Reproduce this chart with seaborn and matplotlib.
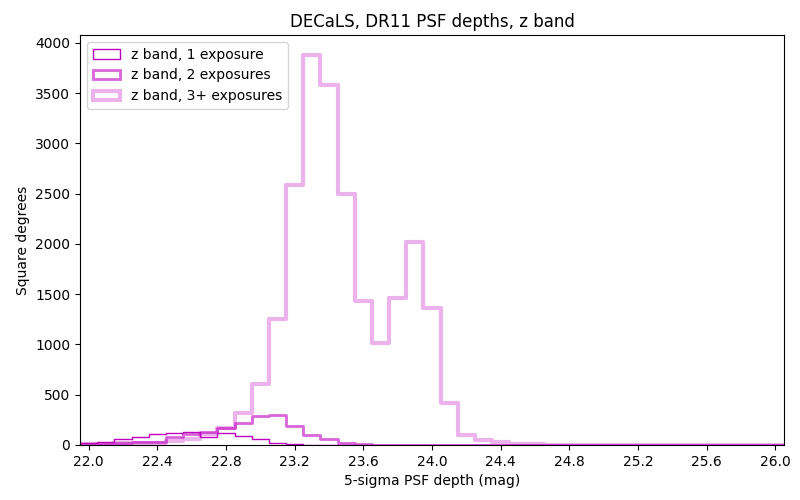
import numpy as np
import pandas as pd
import matplotlib
matplotlib.use("Agg")
import matplotlib.pyplot as plt
from matplotlib.patches import Patch
import seaborn as sns

# Bin centres (mag), bin width 0.1
centers = np.round(np.arange(22.0, 26.01, 0.1), 2)

one_exp = [20, 32, 58, 83, 112, 121, 131, 82, 122, 93, 60, 24, 6, 2, 1,
           0, 0, 0, 0, 0, 0, 0, 0, 0, 0, 0, 0, 0, 0, 0, 0, 0, 0, 0, 0, 0, 0, 0, 0, 0, 0]
two_exp = [12, 12, 20, 30, 32, 75, 105, 130, 172, 216, 286, 296, 186, 97, 57,
           20, 5, 2, 1, 0, 0, 0, 0, 0, 0, 0, 0, 0, 0, 0, 0, 0, 0, 0, 0, 0, 0, 0, 0, 0, 0]
three_exp = [8, 10, 15, 20, 22, 42, 62, 110, 170, 318, 602, 1255, 2588, 3885, 3578,
             2502, 1433, 1010, 1464, 2022, 1366, 415, 95, 45, 25, 12, 6, 4, 3, 2,
             2, 1, 1, 0, 0, 0, 0, 0, 0, 0, 0]

labels = ["z band, 1 exposure", "z band, 2 exposures", "z band, 3+ exposures"]
xticks = [22.0, 22.4, 22.8, 23.2, 23.6, 24.0, 24.4, 24.8, 25.2, 25.6, 26.0]

edges = [float(e) for e in np.round(np.append(centers - 0.05, centers[-1] + 0.05), 2)]

fig, ax = plt.subplots(figsize=(8, 5), dpi=100)
fig.subplots_adjust(left=0.1, right=0.98, bottom=0.11, top=0.93)

styles = [dict(alpha=1.0, lw=1), dict(alpha=0.6, lw=2), dict(alpha=0.3, lw=3)]
handles = []
for vals, lab, st in zip([one_exp, two_exp, three_exp], labels, styles):
    df = pd.DataFrame({"depth": centers, "area": vals})
    sns.histplot(data=df, x="depth", weights="area", bins=edges, element="step",
                 fill=False, color="m", alpha=st["alpha"], linewidth=st["lw"], ax=ax)
    handles.append(Patch(facecolor="none", edgecolor="m", alpha=st["alpha"],
                         linewidth=st["lw"], label=lab))

ax.set_xlim(edges[0], edges[-1])
ax.set_ylim(bottom=0)
ax.set_xticks(xticks)
ax.set_xticklabels([f"{t:.1f}" for t in xticks])
ax.set_xlabel("5-sigma PSF depth (mag)")
ax.set_ylabel("Square degrees")
ax.set_title("DECaLS, DR11 PSF depths, z band")
ax.legend(handles=handles, loc="upper left")

fig.savefig("out.png", dpi=100)
